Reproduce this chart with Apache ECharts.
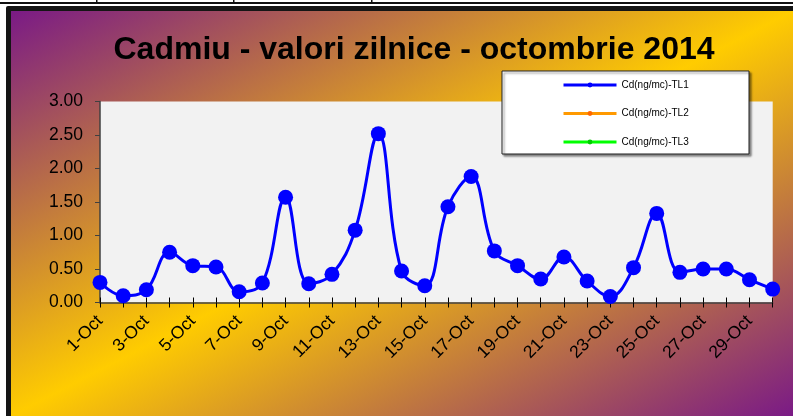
<!DOCTYPE html>
<html>
<head>
<meta charset="utf-8">
<script src="https://cdn.jsdelivr.net/npm/echarts@6/dist/echarts.min.js"></script>
<style>
  html, body { margin: 0; padding: 0; background: #fff; }
  #chart { width: 793px; height: 416px; }
</style>
</head>
<body>
<div id="chart"></div>
<script>
// days of October 2014
const days = ['1-Oct', '2-Oct', '3-Oct', '4-Oct', '5-Oct', '6-Oct', '7-Oct', '8-Oct', '9-Oct', '10-Oct',
  '11-Oct', '12-Oct', '13-Oct', '14-Oct', '15-Oct', '16-Oct', '17-Oct', '18-Oct', '19-Oct', '20-Oct',
  '21-Oct', '22-Oct', '23-Oct', '24-Oct', '25-Oct', '26-Oct', '27-Oct', '28-Oct', '29-Oct', '30-Oct']

// Cd ng/mc per station (TL2, TL3 have no data this month)
const tl1 = [0.30, 0.10, 0.19, 0.75, 0.55, 0.53, 0.16, 0.29, 1.57, 0.28,
  0.42, 1.08, 2.52, 0.47, 0.25, 1.43, 1.88, 0.77, 0.55, 0.35,
  0.68, 0.32, 0.09, 0.52, 1.33, 0.45, 0.50, 0.50, 0.34, 0.20]
const tl2 = []
const tl3 = []

const seriesNames = ['Cd(ng/mc)-TL1', 'Cd(ng/mc)-TL2', 'Cd(ng/mc)-TL3']
const titleText = 'Cadmiu - valori zilnice - octombrie 2014'

const chart = echarts.init(document.getElementById('chart'), null, { renderer: 'canvas' })

const axisColor = '#404040'
const font = 'Liberation Sans, Arial, sans-serif'

// gradient runs corner to corner like the office "diagonal" fill:
// middle stop lies on the line through top-right and bottom-left corners
const bx = 11, by = 11, bw = 782, bh = 405
const k = (bw * bh) / (bw * bw + bh * bh)
const cx = bx + bw / 2, cy = by + bh / 2
const bgFill = new echarts.graphic.LinearGradient(
  cx - bh * k, cy - bw * k, cx + bh * k, cy + bw * k,
  [
    { offset: 0, color: '#7a1a86' },
    { offset: 0.5, color: '#ffcc00' },
    { offset: 1, color: '#7a1a86' }
  ],
  true
)

const option = {
  animation: false,
  textStyle: { fontFamily: font },
  title: {
    text: titleText,
    left: 414,
    top: 34,
    textAlign: 'center',
    padding: 0,
    textStyle: { fontSize: 32, fontWeight: 'bold', color: '#000', fontFamily: font }
  },
  graphic: [
    // table rule above the chart
    { type: 'rect', z: -10, shape: { x: 0, y: 2, width: 793, height: 2 }, style: { fill: '#111' } },
    { type: 'rect', z: -10, shape: { x: 96, y: 0, width: 1.5, height: 3 }, style: { fill: '#111' } },
    { type: 'rect', z: -10, shape: { x: 233, y: 0, width: 1.5, height: 3 }, style: { fill: '#111' } },
    { type: 'rect', z: -10, shape: { x: 371, y: 0, width: 1.5, height: 3 }, style: { fill: '#111' } },
    // chart frame
    { type: 'rect', z: -10, shape: { x: 6, y: 6, width: 800, height: 420, r: 2 }, style: { fill: '#151515' } },
    { type: 'rect', z: -9, shape: { x: bx, y: by, width: bw, height: bh }, style: { fill: bgFill } },
    // legend box
    {
      type: 'rect', z: 3,
      shape: { x: 502, y: 71, width: 247, height: 83 },
      style: {
        fill: '#fff', stroke: '#222', lineWidth: 1,
        shadowColor: 'rgba(0,0,0,0.45)', shadowBlur: 2, shadowOffsetX: 2, shadowOffsetY: 2
      }
    }
  ],
  legend: {
    orient: 'vertical',
    left: 562,
    top: 80,
    padding: 0,
    itemWidth: 53,
    itemHeight: 6,
    itemGap: 18.5,
    z: 5,
    lineStyle: { width: 3 },
    textStyle: { fontSize: 10, color: '#000', fontFamily: font },
    data: seriesNames
  },
  grid: {
    left: 100,
    right: 20.3,
    top: 101.5,
    bottom: 113.5,
    show: true,
    backgroundColor: '#f2f2f2',
    borderWidth: 0,
    outerBoundsMode: 'none'
  },
  xAxis: [
    {
      type: 'category',
      data: days,
      boundaryGap: false,
      axisLine: { lineStyle: { color: axisColor, width: 1.5 } },
      axisTick: { interval: 0, length: 5, lineStyle: { color: '#000' } },
      axisLabel: { interval: 1, rotate: 45, margin: 16, fontSize: 17.5, color: '#000' },
      splitLine: { show: false }
    },
    {
      type: 'category',
      data: days,
      boundaryGap: false,
      position: 'bottom',
      axisLine: { show: false },
      axisTick: { inside: true, interval: 0, length: 5, lineStyle: { color: '#000' } },
      axisLabel: { show: false },
      splitLine: { show: false }
    }
  ],
  yAxis: {
    type: 'value',
    min: 0,
    max: 3,
    interval: 0.5,
    axisLine: { show: true, lineStyle: { color: axisColor, width: 1.5 } },
    axisTick: { show: true, length: 5, lineStyle: { color: axisColor } },
    axisLabel: { margin: 17, fontSize: 17.5, color: '#000', formatter: v => v.toFixed(2) },
    splitLine: { show: false }
  },
  series: [
    {
      name: seriesNames[0],
      type: 'line',
      data: tl1,
      smooth: 0.4,
      symbol: 'circle',
      symbolSize: 15,
      showAllSymbol: true,
      lineStyle: { color: '#0000ff', width: 3 },
      itemStyle: { color: '#0000ff' },
      z: 2
    },
    {
      name: seriesNames[1],
      type: 'line',
      data: tl2,
      symbol: 'circle',
      lineStyle: { color: '#ff9900', width: 3 },
      itemStyle: { color: '#ff6600' }
    },
    {
      name: seriesNames[2],
      type: 'line',
      data: tl3,
      symbol: 'circle',
      lineStyle: { color: '#00ff00', width: 3 },
      itemStyle: { color: '#00cc00' }
    }
  ]
}

chart.setOption(option)
window.addEventListener('resize', () => chart.resize())
</script>
</body>
</html>
